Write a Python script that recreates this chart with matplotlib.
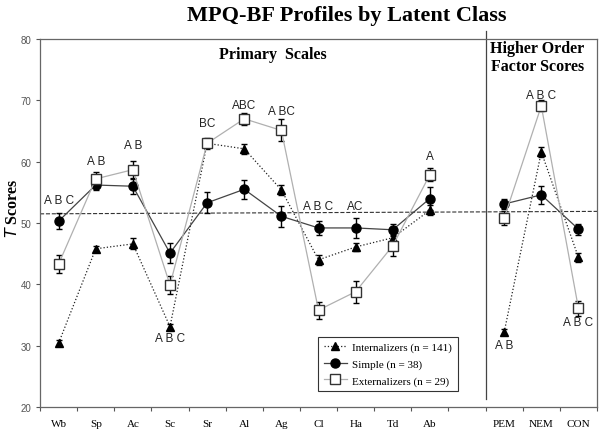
"""
MPQ-BF profiles by latent class (T scores + error bars)
"""
import numpy as np
import matplotlib
matplotlib.use('Agg')
import matplotlib.pyplot as plt

SERIF = 'Liberation Serif'
SANS = 'Liberation Sans'

# categories: 11 primary scales, one empty slot, 3 higher order factors
scales = ['Wb', 'Sp', 'Ac', 'Sc', 'Sr', 'Al', 'Ag', 'Cl', 'Ha', 'Td', 'Ab',
          '', 'PEM', 'NEM', 'CON']
nan = np.nan

internalizers = [30.4, 45.8, 46.6, 33.1, 63.0, 62.1, 55.4, 44.0, 46.1, 47.6, 52.1,
                 nan, 32.2, 61.6, 44.4]
internalizers_err = [0.5, 0.5, 0.9, 0.5, 0.6, 0.8, 0.8, 0.8, 0.7, 0.8, 0.8,
                     nan, 0.5, 0.8, 0.7]

simple = [50.3, 56.2, 56.0, 45.1, 53.3, 55.5, 51.1, 49.2, 49.2, 48.9, 54.0,
          nan, 53.1, 54.6, 49.0]
simple_err = [1.3, 0.8, 1.2, 1.6, 1.7, 1.5, 1.7, 1.2, 1.6, 1.0, 1.9,
              nan, 0.8, 1.5, 0.9]

externalizers = [43.3, 57.2, 58.7, 39.9, 63.0, 67.0, 65.1, 35.8, 38.8, 46.3, 57.9,
                 nan, 50.8, 69.1, 36.1]
externalizers_err = [1.5, 1.2, 1.4, 1.4, 0.9, 1.0, 1.8, 1.4, 1.8, 1.7, 1.1,
                     nan, 1.1, 0.9, 1.2]

# significance letters: (category, y centre, text)
sig_labels = [(0, 53.7, 'A B C'), (1, 60.1, 'A B'), (2, 62.8, 'A B'),
              (3, 31.2, 'A B C'), (4, 66.3, 'BC'), (5, 69.2, 'ABC'),
              (6, 68.3, 'A BC'), (7, 52.8, 'A B C'), (8, 52.8, 'AC'),
              (10, 60.9, 'A'), (12, 30.1, 'A B'), (13, 70.9, 'A B C'),
              (14, 33.8, 'A B C')]

ref_line = [51.5, 51.9]   # dashed reference line, left -> right

x = np.arange(len(scales))

fig = plt.figure(figsize=(6.0, 4.31), dpi=100)
ax = fig.add_axes([0.0667, 0.0534, 0.9283, 0.8536])

ax.plot([-0.5, 14.5], ref_line, ls='--', color='#333333', lw=0.8, zorder=1)

series = [
    ('Internalizers (n = 141)', internalizers, internalizers_err,
     dict(ls=':', color='#222222', marker='^', ms=6, mfc='black', mec='black')),
    ('Simple (n = 38)', simple, simple_err,
     dict(ls='-', color='#444444', marker='o', ms=6.5, mfc='black', mec='black')),
    ('Externalizers (n = 29)', externalizers, externalizers_err,
     dict(ls='-', color='#b0b0b0', marker='s', ms=6.5, mfc='white', mec='#333333')),
]
for z, (name, vals, err, st) in enumerate(series):
    ax.errorbar(x, vals, yerr=err, fmt='none', ecolor='black', elinewidth=1,
                capsize=2.2, capthick=1, zorder=3 + z)
    ax.plot(x, vals, lw=0.9, label=name, zorder=4 + z, **st)

for i, y, txt in sig_labels:
    ax.text(i, y, txt, ha='center', va='center', fontsize=8.5,
            family=SANS, color='#222222')

# divider between primary scales and higher order factors
ax.plot([11.5, 11.5], [21.3, 81.3], color='#444444', lw=0.9, clip_on=False)

ax.text(5.77, 77.6, 'Primary  Scales', ha='center', va='center',
        fontsize=11.5, fontweight='bold', family=SERIF)
ax.text(12.9, 77.1, 'Higher Order\nFactor Scores', ha='center', va='center',
        fontsize=11.5, fontweight='bold', family=SERIF, linespacing=1.2)

ax.set_xlim(-0.5, 14.5)
ax.set_ylim(20, 80)
ax.set_yticks([20, 30, 40, 50, 60, 70, 80])
ax.tick_params(axis='y', labelsize=7, labelcolor='#555555', color='#555555',
               length=3, direction='out', pad=3)
for lab in ax.get_yticklabels():
    lab.set_family(SANS)

ax.set_xticks(np.arange(-0.5, 15, 1))
ax.set_xticklabels([])
ax.tick_params(axis='x', which='major', length=3, color='#555555', direction='out')
ax.set_xticks(x, minor=True)
ax.set_xticklabels(scales, minor=True, fontsize=8, family=SERIF)
ax.tick_params(axis='x', which='minor', length=0, pad=9)

for sp in ax.spines.values():
    sp.set_color('#666666')
    sp.set_linewidth(0.9)

fig.text(0.578, 0.963, 'MPQ-BF Profiles by Latent Class', ha='center', va='center',
         fontsize=16, fontweight='bold', family=SERIF)
fig.text(0.022, 0.516, r'$\mathbf{\mathit{T}}$ Scores', rotation=90, ha='center',
         va='center', fontsize=11.5, fontweight='bold', family=SERIF)

leg = ax.legend(loc='lower left', bbox_to_anchor=(0.499, 0.043), borderaxespad=0,
                fancybox=False, edgecolor='#333333', framealpha=1,
                prop={'family': SERIF, 'size': 8}, handlelength=2.1,
                handletextpad=0.5, labelspacing=0.6, borderpad=0.5)
leg.get_frame().set_linewidth(0.8)

fig.savefig('out.png', dpi=100, facecolor='white')
